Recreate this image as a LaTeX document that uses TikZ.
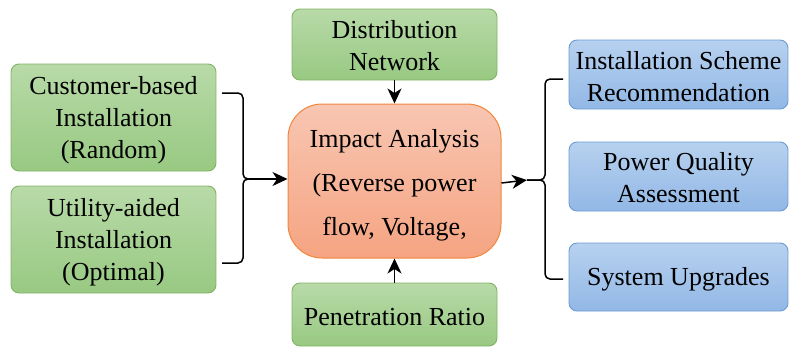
\documentclass[tikz,border=0pt]{standalone}
\usepackage{fontspec}
\setmainfont{Liberation Serif}
\usetikzlibrary{arrows.meta,positioning}

\definecolor{grnTop}{RGB}{184,218,168}
\definecolor{grnBot}{RGB}{152,201,130}
\definecolor{grnLine}{RGB}{130,179,102}
\definecolor{orgTop}{RGB}{248,198,178}
\definecolor{orgBot}{RGB}{245,164,130}
\definecolor{orgLine}{RGB}{240,135,60}
\definecolor{bluTop}{RGB}{183,209,239}
\definecolor{bluBot}{RGB}{146,184,230}
\definecolor{bluLine}{RGB}{108,155,210}

\tikzset{
  box/.style={rectangle, rounded corners=8pt, line width=0.9pt, inner sep=0pt},
  greenbox/.style={box, draw=grnLine, top color=grnTop, bottom color=grnBot},
  bluebox/.style={box, draw=bluLine, top color=bluTop, bottom color=bluBot},
  corebox/.style={rectangle, rounded corners=34pt, line width=1pt, inner sep=0pt,
    draw=orgLine, top color=orgTop, bottom color=orgBot},
  txt/.style={inner sep=0pt, align=center, font=\fontsize{26}{32}\selectfont},
  link/.style={line width=1.5pt, draw=black},
  arrow/.style={link, -{Stealth[length=15pt,width=14pt,inset=4.5pt]}},
  brace/.style={link, rounded corners=5pt},
}

\begin{document}
\begin{tikzpicture}[x=1pt,y=-1pt]
  \useasboundingbox (0,0) rectangle (789,348);

  % input boxes on the left
  \node[greenbox, minimum width=205pt, minimum height=107pt] (cust) at (113.5,117.5) {};
  \node[txt] (custT) at ([yshift=-3pt]cust.center) {Customer-based\\Installation\\(Random)};
  \node[greenbox, minimum width=205pt, minimum height=107pt] (util) at (113.5,239.5) {};
  \node[txt] (utilT) at ([yshift=-3pt]util.center) {Utility-aided\\Installation\\(Optimal)};

  % inputs above and below the core
  \node[greenbox, minimum width=205pt, minimum height=71pt] (dist) at (394.5,44.5) {};
  \node[txt] (distT) at ([yshift=-1pt]dist.center) {Distribution\\Network};
  \node[greenbox, minimum width=205pt, minimum height=63pt] (pen) at (394.5,314.5) {};
  \node[txt] (penT) at ([yshift=-2.5pt]pen.center) {Penetration Ratio};

  % central analysis block
  \node[corebox, minimum width=213pt, minimum height=154pt] (core) at (394.5,181) {};
  \node[txt, font=\fontsize{26}{44}\selectfont] (coreT) at (394.5,185.5)
    {Impact Analysis\\(Reverse power\\flow, Voltage,};

  % outputs on the right
  \node[bluebox, minimum width=219pt, minimum height=69pt] (rec) at (678.5,74.5) {};
  \node[txt] (recT) at ([yshift=-2pt]rec.center) {Installation Scheme\\Recommendation};
  \node[bluebox, minimum width=219pt, minimum height=69pt] (pq) at (678.5,176.5) {};
  \node[txt] (pqT) at ([yshift=-1.5pt]pq.center) {Power Quality\\Assessment};
  \node[bluebox, minimum width=219pt, minimum height=68pt] (up) at (678.5,277) {};
  \node[txt] (upT) at ([yshift=-2.5pt]up.center) {System Upgrades};

  % left brace gathering both installation modes
  \coordinate (lTop) at (222,93);
  \coordinate (lBot) at (222,263);
  \coordinate (lTip) at (249,179);
  \draw[brace] (lTop) -| (243,179) -- (lTip);
  \draw[brace] (lBot) -| (243,179) -- (lTip);
  \draw[arrow] (lTip) -- (core.west |- lTip);

  % vertical inputs
  \draw[arrow] (dist.south) -- (core.north);
  \draw[arrow] (pen.north) -- (core.south);

  % right brace fanning out to the outputs
  \coordinate (rTip) at (527,180);
  \coordinate (rTop) at (563,79);
  \coordinate (rBot) at (563,279);
  \draw[arrow] (core.east |- 0,183) -- (rTip);
  \draw[brace] (rTop) -| (545,180) -- (rTip);
  \draw[brace] (rBot) -| (545,180) -- (rTip);
\end{tikzpicture}
\end{document}
